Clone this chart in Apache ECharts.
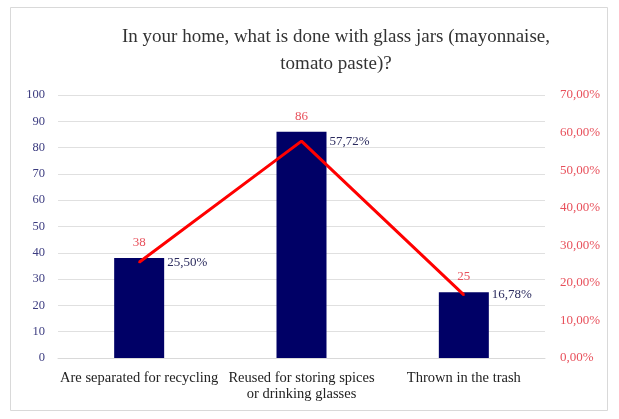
<!DOCTYPE html>
<html>
<head>
<meta charset="utf-8">
<script src="https://cdn.jsdelivr.net/npm/echarts@6/dist/echarts.min.js"></script>
<style>
  html, body { margin: 0; padding: 0; background: #fff; }
  #chart { width: 619px; height: 419px; }
</style>
</head>
<body>
<div id="chart"></div>
<script>
// data
const categories = ['Are separated for recycling', 'Reused for storing spices\nor drinking glasses', 'Thrown in the trash'];
const counts = [38, 86, 25];
const shares = [25.50, 57.72, 16.78];

const fmtPct = v => v.toFixed(2).replace('.', ',') + '%';
const serif = 'Liberation Serif, Times New Roman, serif';

const chart = echarts.init(document.getElementById('chart'));
chart.setOption({
  backgroundColor: '#fff',
  animation: false,
  title: {
    text: 'In your home, what is done with glass jars (mayonnaise,\ntomato paste)?',
    left: 331, top: 19,
    textAlign: 'center',
    textStyle: { fontFamily: serif, fontSize: 19, fontWeight: 'normal', color: '#333', lineHeight: 27 }
  },
  graphic: [{
    type: 'rect', shape: { x: 10.5, y: 7.5, width: 597, height: 403 },
    style: { fill: 'none', stroke: '#d9d9d9', lineWidth: 1 }, silent: true
  }],
  grid: { left: 58, right: 74, top: 95, bottom: 61 },
  xAxis: {
    type: 'category', data: categories,
    axisLine: { show: true, lineStyle: { color: '#d9d9d9' } },
    axisTick: { show: false },
    axisLabel: { interval: 0, fontFamily: serif, fontSize: 14.5, color: '#222', margin: 12, lineHeight: 16 }
  },
  yAxis: [{
    type: 'value', min: 0, max: 100, interval: 10,
    axisLine: { show: false }, axisTick: { show: false },
    splitLine: { lineStyle: { color: '#e0e0e0' } },
    axisLabel: { fontFamily: serif, fontSize: 12.5, color: '#3c3c80', margin: 13 }
  }, {
    type: 'value', min: 0, max: 70, interval: 10,
    axisLine: { show: false }, axisTick: { show: false },
    splitLine: { show: false },
    axisLabel: { fontFamily: serif, fontSize: 13, color: '#e8505b', margin: 15, formatter: v => fmtPct(v) }
  }],
  series: [{
    type: 'bar', data: counts, barWidth: 50, yAxisIndex: 0,
    itemStyle: { color: '#000066' },
    label: { show: true, position: 'top', distance: 9, fontFamily: serif, fontSize: 13, color: '#e8505b' }
  }, {
    type: 'line', data: shares, yAxisIndex: 1,
    symbol: 'circle', symbolSize: 2,
    itemStyle: { color: '#ff0000' },
    lineStyle: { color: '#ff0000', width: 3 },
    label: {
      show: true, position: 'right', distance: 27,
      fontFamily: serif, fontSize: 13, color: '#2b2b5e',
      formatter: p => fmtPct(p.value)
    }
  }]
});
</script>
</body>
</html>
